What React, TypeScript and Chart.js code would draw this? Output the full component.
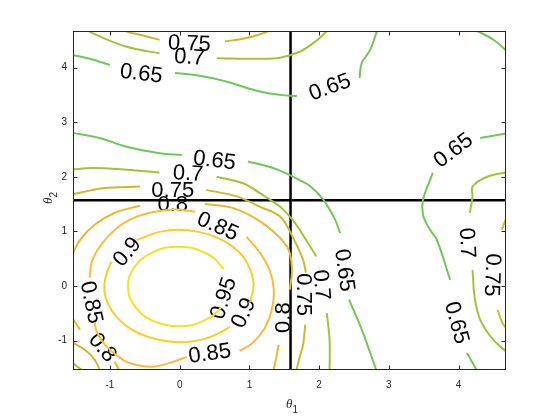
import { useEffect, useRef } from 'react';
import { Chart, registerables } from 'chart.js';

Chart.register(...registerables);

// ---- axes ----
const xRange = [-1.53, 4.68];
const yRange = [-1.54, 4.67];
const xTicks = [-1, 0, 1, 2, 3, 4];
const yTicks = [-1, 0, 1, 2, 3, 4];
const markerTheta1 = 1.59;
const markerTheta2 = 1.571;

// ---- contour levels (segments of [theta1, theta2], broken where labels sit) ----
const contourLevels = [0.65, 0.7, 0.75, 0.8, 0.85, 0.9, 0.95];

const level065 = [
  [[-1.56, 4.24], [-1.29, 4.16], [-1.0, 4.05]],
  [[-0.07, 3.9], [0.29, 3.85], [0.68, 3.74], [1.15, 3.56], [1.44, 3.5], [1.68, 3.48]],
  [[2.58, 3.81], [2.61, 4.08], [2.73, 4.32], [2.82, 4.63], [2.85, 4.72]],
  [[4.22, 4.7], [4.5, 4.51], [4.72, 4.27]],
  [[-1.56, 2.81], [-1.15, 2.71], [-0.76, 2.55], [-0.29, 2.43], [0.03, 2.4]],
  [[0.98, 2.28], [1.34, 2.16], [1.58, 2.03], [1.72, 1.94], [1.87, 1.83], [2.06, 1.58], [2.23, 1.21], [2.3, 0.97]],
  [[2.43, -0.25], [2.63, -0.86], [2.82, -1.54], [2.84, -1.58]],
  [[4.72, 2.8], [4.31, 2.71]],
  [[3.63, 2.07], [3.49, 1.58], [3.49, 1.3], [3.59, 1.03], [3.69, 0.84], [3.88, 0.11]],
  [[4.12, -1.23], [4.26, -1.54], [4.28, -1.58]],
];

const level070 = [
  [[-1.36, 4.72], [-1.25, 4.63], [-0.76, 4.38], [-0.29, 4.26]],
  [[0.53, 4.17], [1.15, 4.16], [1.44, 4.18], [1.72, 4.29], [1.94, 4.47], [2.11, 4.67], [2.13, 4.72]],
  [[-1.56, 2.13], [-1.25, 2.16], [-0.76, 2.13], [-0.29, 2.08]],
  [[0.53, 2.0], [0.91, 1.88], [1.15, 1.7], [1.44, 1.45], [1.62, 1.21], [1.72, 1.03], [1.96, 0.54]],
  [[2.11, -0.5], [2.15, -0.99], [2.15, -1.58]],
  [[4.72, 2.09], [4.41, 2.0], [4.2, 1.82], [4.2, 1.63], [4.16, 1.34]],
  [[4.2, 0.29], [4.23, -0.2], [4.31, -0.62], [4.5, -0.99], [4.72, -1.24]],
  [[-1.56, -1.39], [-1.36, -1.58]],
];

const level075 = [
  [[-0.8, 4.72], [-0.76, 4.66], [-0.57, 4.6], [-0.29, 4.51]],
  [[0.65, 4.48], [0.96, 4.54], [1.26, 4.66], [1.29, 4.72]],
  [[-1.56, 1.67], [-1.1, 1.79], [-0.57, 1.82]],
  [[0.38, 1.76], [0.82, 1.64], [1.15, 1.45], [1.44, 1.27], [1.62, 0.9], [1.77, 0.48], [1.81, 0.24]],
  [[1.8, -0.71], [1.77, -1.08], [1.71, -1.35], [1.67, -1.58]],
  [[4.72, 1.37], [4.62, 1.03]],
  [[4.56, -0.44], [4.63, -0.68], [4.72, -0.83]],
  [[-1.56, -1.02], [-1.36, -1.17], [-1.22, -1.35], [-1.13, -1.58]],
];

const level080 = [
  [[-1.56, 0.52], [-1.43, 0.84], [-1.22, 1.12], [-0.93, 1.34], [-0.57, 1.47]],
  [[0.36, 1.5], [0.76, 1.43], [1.19, 1.15], [1.54, 0.72], [1.61, 0.33], [1.58, -0.07]],
  [[1.42, -1.08], [1.38, -1.35], [1.34, -1.58]],
  [[-1.56, -0.55], [-1.43, -0.8]],
  [[-0.93, -1.39], [-0.85, -1.58]],
];

const level085 = [
  [[0.96, 0.9], [1.15, 0.61], [1.29, 0.29], [1.35, -0.07], [1.32, -0.44], [1.22, -0.77], [1.05, -1.04], [0.86, -1.19]],
  [[0.1, -1.3], [-0.14, -1.41], [-0.39, -1.48], [-0.64, -1.44], [-0.82, -1.35], [-1.07, -1.08], [-1.19, -0.84], [-1.22, -0.66]],
  [[-1.29, 0.15], [-1.26, 0.44], [-1.13, 0.75], [-0.93, 1.03], [-0.72, 1.21], [-0.43, 1.34], [-0.07, 1.4], [0.22, 1.36]],
];

const level090 = [
  [[1.01, -0.3], [1.06, 0.0], [1.02, 0.27], [0.92, 0.52], [0.75, 0.73], [0.53, 0.89], [0.27, 0.99], [-0.01, 1.03], [-0.29, 0.99], [-0.62, 0.84]],
  [[-0.98, 0.44], [-1.06, 0.18], [-1.08, -0.09], [-1.02, -0.35], [-0.89, -0.59], [-0.7, -0.79], [-0.46, -0.93], [-0.2, -1.01], [0.08, -1.03], [0.36, -0.97], [0.6, -0.84], [0.72, -0.75]],
];

const level095 = [
  [[0.63, 0.31], [0.49, 0.51], [0.34, 0.62], [0.17, 0.7], [-0.02, 0.72], [-0.21, 0.7], [-0.38, 0.62], [-0.53, 0.51], [-0.64, 0.36], [-0.72, 0.18], [-0.74, -0.01], [-0.72, -0.2], [-0.64, -0.38], [-0.53, -0.53], [-0.38, -0.64], [-0.21, -0.71], [-0.02, -0.74], [0.17, -0.72], [0.34, -0.64], [0.49, -0.53], [0.59, -0.4]],
];

const contourSegments = [level065, level070, level075, level080, level085, level090, level095];

const levelColors = [
  'rgb(112,199,88)',
  'rgb(160,196,55)',
  'rgb(205,185,45)',
  'rgb(236,184,50)',
  'rgb(251,186,58)',
  'rgb(249,205,44)',
  'rgb(240,228,30)',
];

// ---- inline contour labels: text, theta1, theta2, rotation (deg) ----
const labelTexts = ['0.75', '0.7', '0.65', '0.65', '0.65', '0.7', '0.75', '0.8', '0.85', '0.9', '0.95', '0.9', '0.85', '0.8', '0.85', '0.8', '0.75', '0.7', '0.65', '0.65', '0.7', '0.75', '0.65'];
const labelTheta1 = [0.14, 0.14, -0.55, 2.15, 0.5, 0.12, -0.1, -0.1, 0.55, -0.76, 0.62, 0.91, -1.26, -1.1, 0.43, 1.48, 1.78, 2.04, 2.37, 3.92, 4.13, 4.49, 3.98];
const labelTheta2 = [4.45, 4.2, 3.9, 3.65, 2.31, 2.07, 1.76, 1.5, 1.1, 0.63, -0.22, -0.49, -0.3, -1.12, -1.23, -0.58, -0.16, 0.02, 0.29, 2.49, 0.79, 0.2, -0.67];
const labelAngles = [2, 4, 7, -20, 7, 3, 0, 0, 24, -50, -72, -65, 78, 50, -8, -90, 90, 85, 82, -37, 87, 92, 75];

const AXIS_COLOR = '#262626';
const SANS = '"Liberation Sans", Arial, Helvetica, sans-serif';

export default function App() {
  const canvasRef = useRef<HTMLCanvasElement | null>(null);

  useEffect(() => {
    const canvas = canvasRef.current;
    if (!canvas) return;

    const datasets: any[] = [];
    contourSegments.forEach((segs, i) => {
      segs.forEach((seg) => {
        datasets.push({
          data: seg.map(([x, y]) => ({ x, y })),
          showLine: true,
          borderColor: levelColors[i],
          borderWidth: 2,
          pointRadius: 0,
          pointHoverRadius: 0,
          tension: 0.35,
          fill: false,
          clip: 0,
        });
      });
    });
    datasets.push({
      data: [
        { x: markerTheta1, y: yRange[0] - 1 },
        { x: markerTheta1, y: yRange[1] + 1 },
      ],
      showLine: true,
      borderColor: '#000',
      borderWidth: 2.5,
      pointRadius: 0,
      tension: 0,
      clip: 0,
    });
    datasets.push({
      data: [
        { x: xRange[0] - 1, y: markerTheta2 },
        { x: xRange[1] + 1, y: markerTheta2 },
      ],
      showLine: true,
      borderColor: '#000',
      borderWidth: 2.5,
      pointRadius: 0,
      tension: 0,
      clip: 0,
    });

    const labelPlugin = {
      id: 'contourLabels',
      beforeDatasetsDraw(chart: any) {
        const { ctx, scales } = chart;
        const area = chart.chartArea;
        ctx.save();
        ctx.beginPath();
        ctx.rect(area.left, area.top, area.right - area.left, area.bottom - area.top);
        ctx.clip();
        ctx.fillStyle = '#000';
        ctx.font = `22px ${SANS}`;
        ctx.textAlign = 'center';
        ctx.textBaseline = 'middle';
        labelTexts.forEach((t, i) => {
          const px = scales.x.getPixelForValue(labelTheta1[i]);
          const py = scales.y.getPixelForValue(labelTheta2[i]);
          ctx.save();
          ctx.translate(px, py);
          ctx.rotate((labelAngles[i] * Math.PI) / 180);
          ctx.fillText(t, 0, 1);
          ctx.restore();
        });
        ctx.restore();
      },
    };

    const boxPlugin = {
      id: 'matlabBox',
      afterDatasetsDraw(chart: any) {
        const { ctx, scales } = chart;
        const a = chart.chartArea;
        ctx.save();
        ctx.strokeStyle = AXIS_COLOR;
        ctx.lineWidth = 1;
        const L = Math.round(a.left) + 0.5;
        const R = Math.round(a.right) - 0.5;
        const T = Math.round(a.top) + 0.5;
        const B = Math.round(a.bottom) - 0.5;
        ctx.strokeRect(L, T, R - L, B - T);
        const tl = 4;
        ctx.beginPath();
        xTicks.forEach((v) => {
          const px = Math.round(scales.x.getPixelForValue(v)) + 0.5;
          ctx.moveTo(px, B);
          ctx.lineTo(px, B - tl);
          ctx.moveTo(px, T);
          ctx.lineTo(px, T + tl);
        });
        yTicks.forEach((v) => {
          const py = Math.round(scales.y.getPixelForValue(v)) + 0.5;
          ctx.moveTo(L, py);
          ctx.lineTo(L + tl, py);
          ctx.moveTo(R, py);
          ctx.lineTo(R - tl, py);
        });
        ctx.stroke();
        ctx.restore();
      },
      afterDraw(chart: any) {
        const { ctx } = chart;
        const a = chart.chartArea;
        ctx.save();
        ctx.fillStyle = AXIS_COLOR;
        ctx.textBaseline = 'alphabetic';
        // x title: theta_1
        const cx = (a.left + a.right) / 2;
        ctx.font = 'italic 13px "Liberation Serif", "DejaVu Serif", serif';
        ctx.textAlign = 'right';
        ctx.fillText('θ', cx + 3, 408);
        ctx.font = `10px ${SANS}`;
        ctx.textAlign = 'left';
        ctx.fillText('1', cx + 3, 413);
        // y title: theta_2 (rotated)
        const cy = (a.top + a.bottom) / 2;
        ctx.translate(52, cy);
        ctx.rotate(-Math.PI / 2);
        ctx.font = 'italic 13px "Liberation Serif", "DejaVu Serif", serif';
        ctx.textAlign = 'right';
        ctx.fillText('θ', 3, 0);
        ctx.font = `10px ${SANS}`;
        ctx.textAlign = 'left';
        ctx.fillText('2', 3, 5);
        ctx.restore();
      },
    };

    const chart = new Chart(canvas, {
      type: 'scatter',
      data: { datasets },
      options: {
        animation: false,
        responsive: false,
        events: [],
        layout: { padding: { top: 31, right: 54, left: 0, bottom: 0 } },
        plugins: { legend: { display: false }, tooltip: { enabled: false } },
        scales: {
          x: {
            type: 'linear',
            min: xRange[0],
            max: xRange[1],
            afterBuildTicks: (scale: any) => {
              scale.ticks = xTicks.map((v) => ({ value: v }));
            },
            afterFit: (scale: any) => {
              scale.height = 50;
            },
            grid: { display: false, drawTicks: false },
            border: { display: false },
            ticks: {
              color: AXIS_COLOR,
              font: { family: SANS, size: 10 },
              padding: 9,
              maxRotation: 0,
              autoSkip: false,
              callback: (v: any) => String(v),
            },
          },
          y: {
            type: 'linear',
            min: yRange[0],
            max: yRange[1],
            afterBuildTicks: (scale: any) => {
              scale.ticks = yTicks.map((v) => ({ value: v }));
            },
            afterFit: (scale: any) => {
              scale.width = 73;
            },
            grid: { display: false, drawTicks: false },
            border: { display: false },
            ticks: {
              color: AXIS_COLOR,
              font: { family: SANS, size: 10 },
              padding: 6,
              autoSkip: false,
              callback: (v: any) => String(v),
            },
          },
        },
      },
      plugins: [labelPlugin, boxPlugin],
    });

    return () => chart.destroy();
  }, []);

  return (
    <div style={{ position: 'fixed', left: 0, top: 0, width: 560, height: 420, background: '#fff' }}>
      <canvas ref={canvasRef} width={560} height={420} style={{ display: 'block' }} />
    </div>
  );
}
